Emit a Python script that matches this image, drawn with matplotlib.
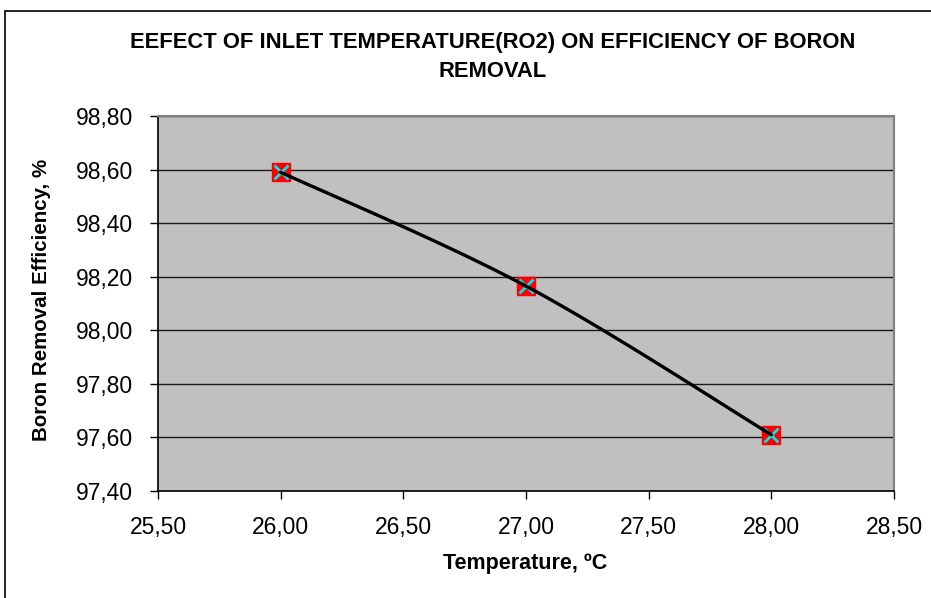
import numpy as np
import matplotlib
matplotlib.use("Agg")
import matplotlib.pyplot as plt
from matplotlib.patches import Rectangle

temperature = [26.0, 27.0, 28.0]
efficiency = [98.59, 98.165, 97.61]
x_ticks = [25.5, 26.0, 26.5, 27.0, 27.5, 28.0, 28.5]
y_ticks = [97.4, 97.6, 97.8, 98.0, 98.2, 98.4, 98.6, 98.8]
title = "EEFECT OF INLET TEMPERATURE(RO2) ON EFFICIENCY OF BORON\nREMOVAL"
x_label = "Temperature, ºC"
y_label = "Boron Removal Efficiency, %"

plt.rcParams['font.family'] = ['Liberation Sans', 'DejaVu Sans']

def smooth_curve(xs, ys, n=60):
    # Excel-style smoothed line: cubic Bezier with Catmull-Rom tangents
    pts = np.column_stack([xs, ys]).astype(float)
    out = []
    for i in range(len(pts) - 1):
        p0 = pts[i - 1] if i > 0 else pts[i]
        p1 = pts[i]
        p2 = pts[i + 1]
        p3 = pts[i + 2] if i + 2 < len(pts) else pts[i + 1]
        c1 = p1 + (p2 - p0) / 6.0
        c2 = p2 - (p3 - p1) / 6.0
        t = np.linspace(0, 1, n)[:, None]
        seg = ((1 - t) ** 3) * p1 + 3 * ((1 - t) ** 2) * t * c1 + 3 * (1 - t) * t ** 2 * c2 + t ** 3 * p2
        out.append(seg if i == 0 else seg[1:])
    arr = np.vstack(out)
    return arr[:, 0], arr[:, 1]

fig = plt.figure(figsize=(9.31, 5.98), dpi=100)
ax = fig.add_axes([158 / 931, 1 - 491 / 598, (894 - 158) / 931, (491 - 116) / 598])
ax.set_facecolor('#C0C0C0')

# figure border
fig.patches.append(Rectangle((5 / 931, -0.1), 1.2, 1.1 - 11 / 598, transform=fig.transFigure,
                             fill=False, edgecolor='black', linewidth=1.2))

ax.set_xlim(x_ticks[0], x_ticks[-1])
ax.set_ylim(y_ticks[0], y_ticks[-1])
ax.set_xticks(x_ticks)
ax.set_yticks(y_ticks)
ax.set_xticklabels([f"{v:.2f}".replace('.', ',') for v in x_ticks])
ax.set_yticklabels([f"{v:.2f}".replace('.', ',') for v in y_ticks])
ax.tick_params(axis='both', direction='out', length=6, width=1, labelsize=16.5, colors='black')
ax.tick_params(axis='x', pad=12)
ax.tick_params(axis='y', pad=12)

ax.yaxis.grid(True, color='#1a1a1a', linewidth=1)
ax.set_axisbelow(True)

for s in ['left', 'bottom']:
    ax.spines[s].set_color('black')
    ax.spines[s].set_linewidth(1.2)
for s in ['top', 'right']:
    ax.spines[s].set_color('#808080')
    ax.spines[s].set_linewidth(1.5)

sx, sy = smooth_curve(temperature, efficiency)
ax.plot(temperature, efficiency, linestyle='none', marker='s', markersize=12.5,
        markerfacecolor='#FF0000', markeredgecolor='#FF0000', zorder=3, clip_on=False)
ax.plot(temperature, efficiency, linestyle='none', marker='x', markersize=10,
        markeredgecolor='#00E5EE', markeredgewidth=2, zorder=4, clip_on=False)
ax.plot(sx, sy, color='black', linewidth=2.4, zorder=5, solid_capstyle='round')

fig.text(493 / 931, 1 - 57 / 598, title, ha='center', va='center', fontsize=15.8,
         fontweight='bold', linespacing=1.5)
fig.text(525 / 931, 1 - 564 / 598, x_label, ha='center', va='center', fontsize=15.5,
         fontweight='bold')
fig.text(42 / 931, 1 - 300 / 598, y_label, ha='center', va='center', fontsize=14.8,
         fontweight='bold', rotation=90)

fig.savefig("out.png", dpi=100)
